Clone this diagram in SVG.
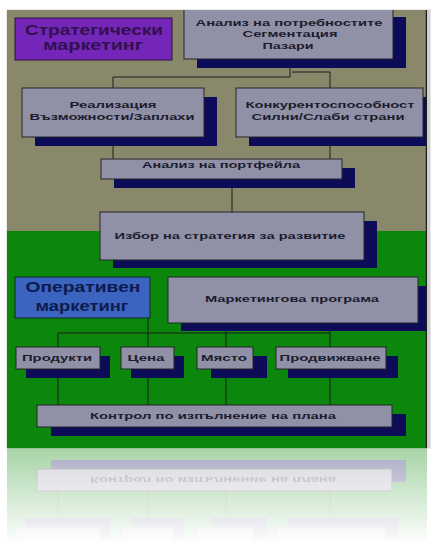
<svg xmlns="http://www.w3.org/2000/svg" width="433" height="559" viewBox="0 0 433 559">
<style>
.box{fill:#9090a6;stroke:#25252d;stroke-width:1}
.sh{fill:#0c0c58}
.t{font-family:"Liberation Sans",Arial,sans-serif;font-weight:bold;font-size:9px;fill:#1c1c2e;text-anchor:middle;dominant-baseline:central}
.big{font-size:14px}
.c{stroke:#1c1c1c;stroke-width:1;fill:none}
</style>
<defs>
<clipPath id="frame"><rect x="7" y="10" width="420" height="438"/></clipPath>
<linearGradient id="fade" x1="0" y1="448" x2="0" y2="545" gradientUnits="userSpaceOnUse">
<stop offset="0" stop-color="#fff" stop-opacity="0.36"/>
<stop offset="1" stop-color="#fff" stop-opacity="0"/>
</linearGradient>
<mask id="rm" maskUnits="userSpaceOnUse" x="0" y="448" width="433" height="111">
<rect x="0" y="448" width="433" height="111" fill="url(#fade)"/>
</mask>
</defs>
<rect width="433" height="559" fill="#ffffff"/>
<rect x="6.5" y="9.5" width="424" height="439" fill="#d0d0d0"/>
<g clip-path="url(#frame)">
<rect x="7" y="10" width="420" height="221" fill="#8a886b"/>
<rect x="7" y="231" width="420" height="217" fill="#0b880b"/>

<g id="connectors">
<path class="c" d="M290,68 V77 M113,77 H290 M113,77 V88 M292,72 H330 V88"/>
<path class="c" d="M113,146 V159 M330,146 V159"/>
<path class="c" d="M232,188 V212"/>
<path class="c" d="M58,333 H330 M148,318 V405 M58,333 V405 M226,331 V405 M330,331 V405"/>
</g>

<g id="strategic">
<rect x="15" y="18" width="157" height="42" fill="#7326b8" stroke="#2a1040" stroke-width="1"/>
<text class="t big" x="94" y="30" textLength="138" lengthAdjust="spacingAndGlyphs" style="fill:#33104f">Стратегически</text>
<text class="t big" x="93" y="45" textLength="100" lengthAdjust="spacingAndGlyphs" style="fill:#33104f">маркетинг</text>
</g>

<g id="analysis">
<rect class="sh" x="197" y="17" width="209" height="51"/>
<rect class="box" x="184" y="6" width="209" height="53"/>
<text class="t" x="289" y="23" textLength="187" lengthAdjust="spacingAndGlyphs">Анализ на потребностите</text>
<text class="t" x="290" y="34" textLength="95" lengthAdjust="spacingAndGlyphs">Сегментация</text>
<text class="t" x="288" y="46" textLength="51" lengthAdjust="spacingAndGlyphs">Пазари</text>
</g>

<g id="realization">
<rect class="sh" x="35" y="97" width="182" height="49"/>
<rect class="box" x="22" y="88" width="182" height="49"/>
<text class="t" x="113" y="105" textLength="87" lengthAdjust="spacingAndGlyphs">Реализация</text>
<text class="t" x="112" y="117" textLength="165" lengthAdjust="spacingAndGlyphs">Възможности/Заплахи</text>
</g>

<g id="competitiveness">
<rect class="sh" x="249" y="97" width="187" height="49"/>
<rect class="box" x="236" y="88" width="187" height="49"/>
<text class="t" x="330" y="105" textLength="169" lengthAdjust="spacingAndGlyphs">Конкурентоспособност</text>
<text class="t" x="328" y="117" textLength="153" lengthAdjust="spacingAndGlyphs">Силни/Слаби страни</text>
</g>

<g id="portfolio">
<rect class="sh" x="114" y="168" width="241" height="20"/>
<rect class="box" x="101" y="159" width="241" height="20"/>
<text class="t" x="221" y="165" textLength="158" lengthAdjust="spacingAndGlyphs">Анализ на портфейла</text>
</g>

<g id="strategy">
<rect class="sh" x="113" y="221" width="264" height="47"/>
<rect class="box" x="100" y="212" width="264" height="48"/>
<text class="t" x="230" y="236" textLength="231" lengthAdjust="spacingAndGlyphs">Избор на стратегия за развитие</text>
</g>

<g id="operational">
<rect x="15" y="277" width="135" height="41" fill="#3a64bf" stroke="#0c2a20" stroke-width="1"/>
<text class="t big" x="83" y="287" textLength="115" lengthAdjust="spacingAndGlyphs" style="fill:#0e1a4e">Оперативен</text>
<text class="t big" x="82" y="306" textLength="93" lengthAdjust="spacingAndGlyphs" style="fill:#0e1a4e">маркетинг</text>
</g>

<g id="program">
<rect class="sh" x="181" y="286" width="250" height="45"/>
<rect class="box" x="168" y="277" width="250" height="46"/>
<text class="t" x="292" y="299" textLength="174" lengthAdjust="spacingAndGlyphs">Маркетингова програма</text>
</g>

<g id="products">
<rect class="sh" x="26" y="356" width="84" height="22"/>
<rect class="box" x="16" y="347" width="84" height="22"/>
<text class="t" x="57" y="358" textLength="70" lengthAdjust="spacingAndGlyphs">Продукти</text>
</g>
<g id="price">
<rect class="sh" x="131" y="356" width="53" height="22"/>
<rect class="box" x="121" y="347" width="53" height="22"/>
<text class="t" x="146" y="358" textLength="37" lengthAdjust="spacingAndGlyphs">Цена</text>
</g>
<g id="place">
<rect class="sh" x="211" y="356" width="56" height="22"/>
<rect class="box" x="197" y="347" width="56" height="22"/>
<text class="t" x="224" y="358" textLength="46" lengthAdjust="spacingAndGlyphs">Място</text>
</g>
<g id="promotion">
<rect class="sh" x="288" y="356" width="110" height="22"/>
<rect class="box" x="276" y="347" width="110" height="22"/>
<text class="t" x="330" y="358" textLength="101" lengthAdjust="spacingAndGlyphs">Продвижване</text>
</g>

<g id="control">
<rect class="sh" x="51" y="414" width="355" height="22"/>
<rect class="box" x="37" y="405" width="355" height="22"/>
<text class="t" x="213" y="416" textLength="246" lengthAdjust="spacingAndGlyphs">Контрол по изпълнение на плана</text>
</g>
<line x1="426.5" y1="10" x2="426.5" y2="448" stroke="#1e1e1e" stroke-width="1.5"/>
</g>

<g id="reflection" mask="url(#rm)">
<g transform="translate(0,896) scale(1,-1)">
<rect x="7" y="330" width="420" height="118" fill="#0b880b"/>
<path class="c" d="M58,333 H330 M148,318 V405 M58,333 V405 M226,331 V405 M330,331 V405"/>
<rect class="sh" x="26" y="356" width="84" height="22"/>
<rect class="box" x="16" y="347" width="84" height="22"/>
<rect class="sh" x="131" y="356" width="53" height="22"/>
<rect class="box" x="121" y="347" width="53" height="22"/>
<rect class="sh" x="211" y="356" width="56" height="22"/>
<rect class="box" x="197" y="347" width="56" height="22"/>
<rect class="sh" x="288" y="356" width="110" height="22"/>
<rect class="box" x="276" y="347" width="110" height="22"/>
<rect class="sh" x="51" y="414" width="355" height="22"/>
<rect class="box" x="37" y="405" width="355" height="22"/>
<text class="t" x="213" y="416" textLength="246" lengthAdjust="spacingAndGlyphs">Контрол по изпълнение на плана</text>
</g>
</g>
</svg>
